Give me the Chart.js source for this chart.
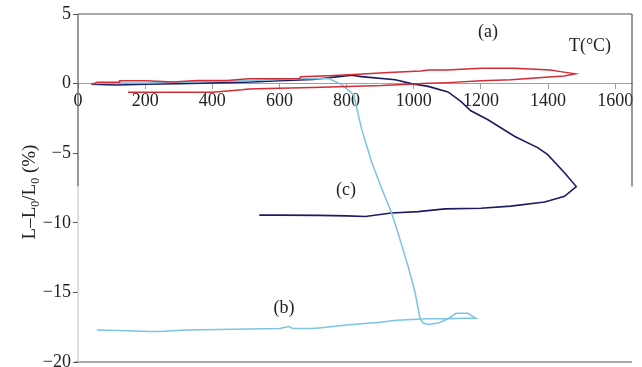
<!DOCTYPE html>
<html><head><meta charset="utf-8">
<script src="https://cdn.jsdelivr.net/npm/chart.js@4.4.1/dist/chart.umd.min.js"></script>
<style>html,body{margin:0;padding:0;background:#fff;}#wrap{width:642px;height:367px;}</style>
</head><body><div id="wrap"><canvas id="c" width="642" height="367"></canvas></div>
<script>
// Tick labels
const xTicks = [0, 200, 400, 600, 800, 1000, 1200, 1400, 1600];
const yTicks = [5, 0, -5, -10, -15, -20];

// Curve (a): red loop, temperature (°C) and L-L0/L0 (%)
const aTemp = [40, 50, 56, 124, 124, 204, 282, 356, 444, 508, 600, 660, 663, 747, 836, 924, 1022, 1043, 1100, 1200, 1300, 1407, 1437, 1481,
               1449, 1393, 1289, 1200, 1102, 1043, 984, 904, 800, 700, 598, 508, 489, 400, 300, 200, 149];
const aStrain = [-0.05, 0.0, 0.1, 0.1, 0.2, 0.2, 0.12, 0.22, 0.22, 0.34, 0.34, 0.36, 0.5, 0.57, 0.67, 0.79, 0.91, 0.98, 0.98, 1.1, 1.1, 0.98, 0.86, 0.7,
                 0.55, 0.45, 0.27, 0.2, 0.07, 0.02, -0.05, -0.14, -0.2, -0.28, -0.33, -0.38, -0.45, -0.62, -0.62, -0.62, -0.62];

// Curve (b): light blue
const bTemp = [40, 100, 200, 300, 400, 500, 600, 660, 747, 785, 821, 844, 874, 904, 934, 954, 984, 1003, 1019, 1028, 1043, 1073, 1102, 1126, 1161, 1185,
               1150, 1100, 1043, 948, 900, 800, 717, 696, 640, 628, 600, 323, 240, 213, 150, 56];
const bStrain = [0.0, 0.05, 0.05, 0.1, 0.15, 0.2, 0.3, 0.35, 0.36, -0.07, -0.8, -3.2, -5.6, -7.5, -9.3, -10.8, -13.2, -14.9, -16.9, -17.2, -17.3, -17.2, -16.9, -16.5, -16.5, -16.85,
                 -16.85, -16.9, -16.9, -17.0, -17.15, -17.35, -17.55, -17.6, -17.6, -17.45, -17.6, -17.7, -17.8, -17.8, -17.75, -17.7];

// Curve (c): dark blue
const cTemp = [40, 116, 200, 300, 400, 500, 600, 700, 776, 815, 844, 945, 993, 1043, 1102, 1141, 1170, 1221, 1301, 1369, 1399, 1449, 1484,
               1449, 1390, 1289, 1200, 1093, 1013, 933, 856, 800, 717, 600, 540];
const cStrain = [-0.05, -0.1, -0.05, 0.0, 0.05, 0.1, 0.2, 0.3, 0.5, 0.6, 0.5, 0.28, 0.0, -0.2, -0.6, -1.3, -1.95, -2.6, -3.8, -4.6, -5.1, -6.4, -7.4,
                 -8.1, -8.5, -8.8, -8.95, -9.0, -9.2, -9.3, -9.55, -9.5, -9.47, -9.45, -9.45];

const toPts = (xs, ys) => xs.map((x, i) => ({x: x, y: ys[i]}));
const SERIF = '"Liberation Serif", "DejaVu Serif", serif';

const decor = {
  id: 'decor',
  afterDraw(chart) {
    const ctx = chart.ctx, a = chart.chartArea;
    const ys = chart.scales.y;
    const yBreak = ys.getPixelForValue(-7.4);
    ctx.save();
    ctx.lineWidth = 1.2;
    ctx.strokeStyle = '#555';
    ctx.beginPath();
    ctx.moveTo(a.left, a.top); ctx.lineTo(a.right, a.top);
    ctx.moveTo(a.left, a.top); ctx.lineTo(a.left, yBreak);
    ctx.moveTo(a.right, a.top); ctx.lineTo(a.right, yBreak);
    ctx.moveTo(a.left - 3, a.bottom); ctx.lineTo(a.right, a.bottom);
    ctx.stroke();
    ctx.strokeStyle = '#c8c8c8';
    ctx.beginPath();
    ctx.moveTo(a.left, yBreak); ctx.lineTo(a.left, a.bottom);
    ctx.stroke();

    ctx.fillStyle = '#222';
    ctx.textAlign = 'center';
    ctx.textBaseline = 'middle';
    ctx.font = '18px ' + SERIF;
    ctx.fillText('(a)', 488, 32);
    ctx.fillText('T(°C)', 590, 46);
    ctx.fillText('(c)', 346, 190);
    ctx.fillText('(b)', 284, 308);

    // y axis title with subscripts
    const parts = [['L–L', false], ['0', true], ['/L', false], ['0', true], [' (%)', false]];
    const big = '19px ' + SERIF, small = '12px ' + SERIF;
    let total = 0;
    parts.forEach(p => { ctx.font = p[1] ? small : big; total += ctx.measureText(p[0]).width; });
    ctx.translate(29, 192);
    ctx.rotate(-Math.PI / 2);
    ctx.textAlign = 'left';
    ctx.textBaseline = 'alphabetic';
    let x = -total / 2;
    parts.forEach(p => {
      ctx.font = p[1] ? small : big;
      ctx.fillText(p[0], x, p[1] ? 10 : 6);
      x += ctx.measureText(p[0]).width;
    });
    ctx.restore();
  }
};

new Chart(document.getElementById('c'), {
  type: 'scatter',
  data: {
    datasets: [
      {label: '(c)', data: toPts(cTemp, cStrain), showLine: true, borderColor: '#1c1c64', borderWidth: 1.6, pointRadius: 0, order: 3},
      {label: '(a)', data: toPts(aTemp, aStrain), showLine: true, borderColor: '#d42c34', borderWidth: 1.5, pointRadius: 0, order: 1},
      {label: '(b)', data: toPts(bTemp, bStrain), showLine: true, borderColor: '#7cc4e2', borderWidth: 1.5, pointRadius: 0, order: 2}
    ]
  },
  options: {
    responsive: false,
    animation: false,
    devicePixelRatio: 1,
    layout: {padding: {left: 0, top: 14, right: 10, bottom: 5}},
    plugins: {legend: {display: false}, tooltip: {enabled: false}},
    scales: {
      x: {
        type: 'linear', min: 0, max: 1650,
        position: {y: 0},
        afterBuildTicks: s => { s.ticks = xTicks.map(v => ({value: v})); },
        afterFit: s => { s.paddingLeft = 0; s.paddingRight = 0; s.paddingTop = 0; s.paddingBottom = 0; },
        border: {display: true, color: '#a0a0a0', width: 1},
        grid: {drawOnChartArea: false, drawTicks: true, tickLength: 5, color: '#a0a0a0'},
        ticks: {font: {family: SERIF, size: 18}, color: '#222', padding: 2, maxRotation: 0,
                callback: v => String(v)}
      },
      y: {
        type: 'linear', min: -20, max: 5,
        afterBuildTicks: s => { s.ticks = yTicks.map(v => ({value: v})); },
        afterFit: s => { s.width = 78; s.paddingTop = 0; s.paddingBottom = 0; },
        border: {display: false},
        grid: {drawOnChartArea: false, drawTicks: true, tickLength: 5, color: '#555'},
        ticks: {font: {family: SERIF, size: 18}, color: '#222', padding: 2,
                callback: v => (v < 0 ? '−' + Math.abs(v) : String(v))}
      }
    }
  },
  plugins: [decor]
});
</script>
</body></html>
